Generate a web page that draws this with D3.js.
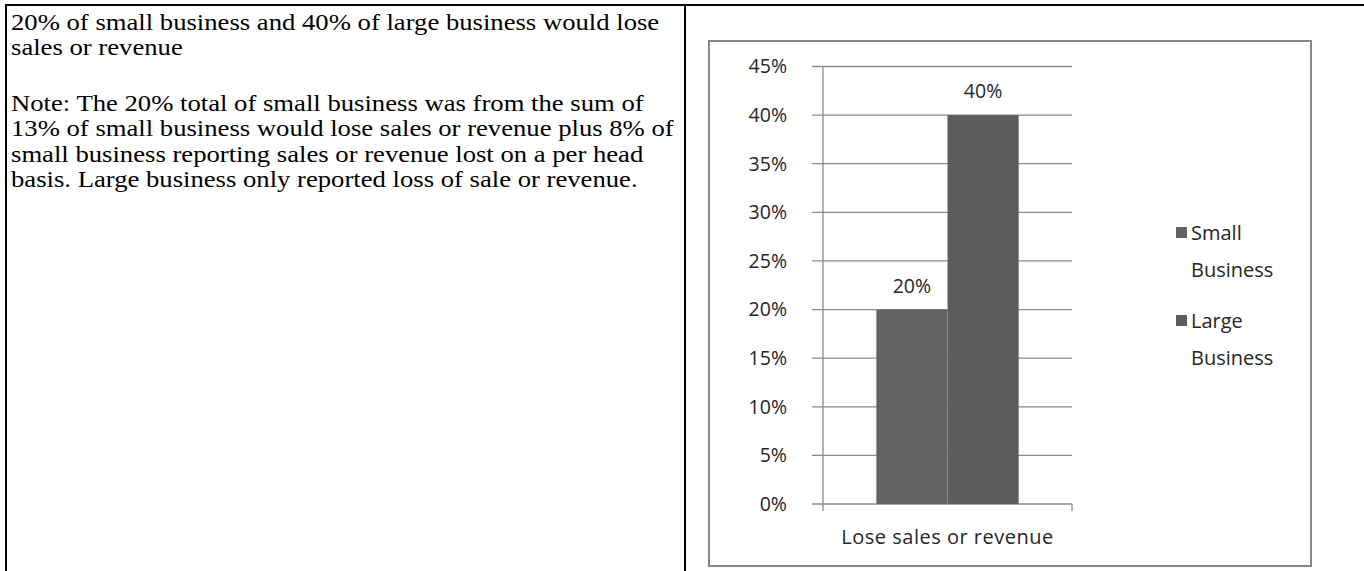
<!DOCTYPE html>
<html>
<head>
<meta charset="utf-8">
<script src="https://cdn.jsdelivr.net/npm/d3@7"></script>
<style>
  html, body { margin: 0; padding: 0; background: #fff; }
  svg { display: block; }
</style>
</head>
<body>
<svg id="page" width="1364" height="571"></svg>
<script>
// Summary text in the left cell
const noteLines = [
  "20% of small business and 40% of large business would lose",
  "sales or revenue",
  "Note: The 20% total of small business was from the sum of",
  "13% of small business would lose sales or revenue plus 8% of",
  "small business reporting sales or revenue lost on a per head",
  "basis. Large business only reported loss of sale or revenue."
];
const noteBaselines = [30, 55.5, 111, 136.5, 162, 187.5];

// Chart data
const categories = ["Lose sales or revenue"];
const seriesNames = ["Small Business", "Large Business"];
const smallBusiness = [0.20];
const largeBusiness = [0.40];
const seriesColors = ["#636363", "#5c5c5c"];
const yTicks = [0, 0.05, 0.10, 0.15, 0.20, 0.25, 0.30, 0.35, 0.40, 0.45];

const svg = d3.select("#page");

// Table lines framing the two cells
const table = svg.append("g").attr("stroke", "#000").attr("stroke-width", 2);
table.append("line").attr("x1", 6).attr("x2", 1364).attr("y1", 5).attr("y2", 5);
table.append("line").attr("x1", 6).attr("x2", 6).attr("y1", 4).attr("y2", 571);
table.append("line").attr("x1", 685).attr("x2", 685).attr("y1", 4).attr("y2", 571);

// Left cell text
svg.append("g")
  .attr("transform", "translate(11,0) scale(1.135,1)")
  .selectAll("text")
  .data(noteLines)
  .join("text")
  .attr("x", 0)
  .attr("y", (d, i) => noteBaselines[i])
  .attr("font-family", "'Liberation Serif', 'Times New Roman', serif")
  .attr("font-size", 23.5)
  .attr("fill", "#000")
  .text(d => d);

// Chart frame
const frame = { x: 709, y: 41, w: 602, h: 525 };
svg.append("rect")
  .attr("x", frame.x).attr("y", frame.y)
  .attr("width", frame.w).attr("height", frame.h)
  .attr("fill", "#fff")
  .attr("stroke", "#878787")
  .attr("stroke-width", 2);

const plot = { left: 823, right: 1072, top: 66.5, bottom: 504 };
const fontChart = "'Open Sans', sans-serif";
const gridColor = "#8a8a8a";
const textColor = "#262626";

const y = d3.scaleLinear().domain([0, 0.45]).range([plot.bottom, plot.top]);
const x0 = d3.scaleBand().domain(categories).range([plot.left, plot.right]);
// 150% gap width split evenly on both sides of the bar pair
const x1 = d3.scaleBand().domain(seriesNames).range([0, x0.bandwidth()]).paddingOuter(0.75).paddingInner(0);

const chart = svg.append("g");

// Horizontal gridlines, extending left as tick marks
chart.append("g")
  .selectAll("line")
  .data(yTicks)
  .join("line")
  .attr("x1", plot.left - 11)
  .attr("x2", plot.right)
  .attr("y1", d => y(d))
  .attr("y2", d => y(d))
  .attr("stroke", gridColor)
  .attr("stroke-width", 1.3);

// Y axis tick labels
chart.append("g")
  .selectAll("text")
  .data(yTicks)
  .join("text")
  .attr("x", plot.left - 36)
  .attr("y", d => y(d))
  .attr("dy", "0.35em")
  .attr("text-anchor", "end")
  .attr("font-family", fontChart)
  .attr("font-size", 19.5)
  .attr("fill", textColor)
  .text(d => d3.format(".0%")(d));

// Bars
const rows = categories.map((c, i) => ({
  category: c,
  values: [
    { series: seriesNames[0], value: smallBusiness[i], color: seriesColors[0] },
    { series: seriesNames[1], value: largeBusiness[i], color: seriesColors[1] }
  ]
}));

const groups = chart.append("g")
  .selectAll("g")
  .data(rows)
  .join("g")
  .attr("transform", d => `translate(${x0(d.category)},0)`);

groups.selectAll("rect")
  .data(d => d.values)
  .join("rect")
  .attr("x", d => x1(d.series))
  .attr("width", x1.bandwidth())
  .attr("y", d => y(d.value))
  .attr("height", d => y(0) - y(d.value))
  .attr("fill", d => d.color);

// Value labels above bars
groups.selectAll("text.value")
  .data(d => d.values)
  .join("text")
  .attr("class", "value")
  .attr("x", d => x1(d.series) + x1.bandwidth() / 2)
  .attr("y", d => y(d.value) - 17)
  .attr("text-anchor", "middle")
  .attr("font-family", fontChart)
  .attr("font-size", 19.5)
  .attr("fill", textColor)
  .text(d => d3.format(".0%")(d.value));

// Axis lines
chart.append("line")
  .attr("x1", plot.left).attr("x2", plot.left)
  .attr("y1", plot.top).attr("y2", plot.bottom + 7)
  .attr("stroke", gridColor).attr("stroke-width", 1.3);
chart.append("line")
  .attr("x1", plot.right).attr("x2", plot.right)
  .attr("y1", plot.bottom).attr("y2", plot.bottom + 7)
  .attr("stroke", gridColor).attr("stroke-width", 1.3);

// Category label
chart.append("g")
  .selectAll("text")
  .data(categories)
  .join("text")
  .attr("x", d => x0(d) + x0.bandwidth() / 2)
  .attr("y", plot.bottom + 40)
  .attr("text-anchor", "middle")
  .attr("font-family", fontChart)
  .attr("font-size", 20)
  .attr("letter-spacing", 0.5)
  .attr("fill", textColor)
  .text(d => d);

// Legend
const legend = chart.append("g").attr("transform", "translate(1176,0)");
const legendItems = legend.selectAll("g")
  .data(seriesNames.map((s, i) => ({ name: s, color: seriesColors[i], top: 224 + i * 88 })))
  .join("g")
  .attr("transform", d => `translate(0,${d.top})`);
legendItems.append("rect")
  .attr("width", 11).attr("height", 11)
  .attr("y", 3)
  .attr("fill", d => d.color);
legendItems.append("text")
  .attr("font-family", fontChart)
  .attr("font-size", 20)
  .attr("fill", textColor)
  .selectAll("tspan")
  .data(d => d.name.split(" "))
  .join("tspan")
  .attr("x", 15)
  .attr("y", (d, i) => 16 + i * 37)
  .text(d => d);
</script>
</body>
</html>
